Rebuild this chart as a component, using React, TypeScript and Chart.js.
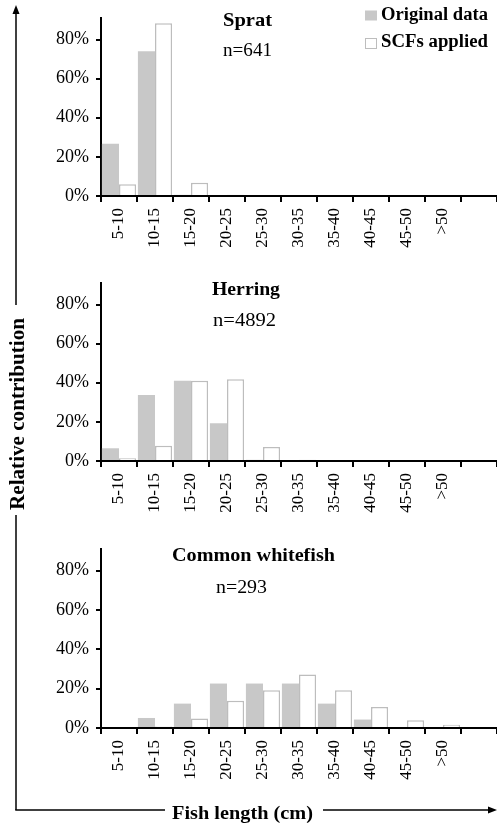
import React, { useEffect, useRef } from 'react';
import { Chart, registerables } from 'chart.js';

Chart.register(...registerables);

const categories = ['5-10', '10-15', '15-20', '20-25', '25-30', '30-35', '35-40', '40-45', '45-50', '>50', ''];
const yTickValues = [0, 20, 40, 60, 80];

const spratOriginal = [26.7, 74, 0.6, 0, 0, 0, 0, 0, 0, 0, null];
const spratSCF = [6, 88.3, 6.8, 0.6, 0, 0, 0, 0, 0, 0, null];
const herringOriginal = [6.5, 33.8, 41, 19.3, 0.6, 0, 0, 0, 0, 0, null];
const herringSCF = [1.4, 7.8, 41, 41.8, 7.2, 0.6, 0, 0, 0, 0, null];
const whitefishOriginal = [0, 5.1, 12.4, 22.6, 22.6, 22.6, 12.4, 4.3, 0, 0, null];
const whitefishSCF = [0, 0.8, 4.8, 13.8, 19.2, 27.2, 19.2, 10.7, 3.9, 1.7, null];

const seriesNames = ['Original data', 'SCFs applied'];

const FONT = "'Liberation Serif', 'Times New Roman', serif";
const GRAY = '#c8c8c8';
const WHITE_BORDER = '#bdbdbd';

function makeConfig(orig: (number | null)[], scf: (number | null)[], topPad: number): any {
  return {
    type: 'bar',
    data: {
      labels: categories,
      datasets: [
        {
          label: seriesNames[0],
          data: orig,
          backgroundColor: GRAY,
          borderWidth: 0,
          categoryPercentage: 0.95,
          barPercentage: 1,
        },
        {
          label: seriesNames[1],
          data: scf,
          backgroundColor: '#ffffff',
          borderColor: WHITE_BORDER,
          borderWidth: 1.5,
          categoryPercentage: 0.95,
          barPercentage: 1,
        },
      ],
    },
    options: {
      responsive: false,
      animation: false,
      layout: { padding: { top: topPad, left: 0, right: 0, bottom: 0 } },
      plugins: {
        legend: { display: false },
        tooltip: { enabled: false },
        title: { display: false },
      },
      scales: {
        x: {
          grid: {
            display: true,
            drawOnChartArea: false,
            drawTicks: true,
            tickLength: 6,
            color: '#000',
            lineWidth: 2,
            offset: true,
          },
          border: { display: true, color: '#000', width: 2 },
          ticks: {
            minRotation: 90,
            maxRotation: 90,
            autoSkip: false,
            color: '#000',
            padding: 6,
            font: { family: FONT, size: 17 },
          },
          afterFit: (s: any) => {
            s.height = 64;
            s.paddingLeft = 0;
            s.paddingRight = 0;
          },
        },
        y: {
          min: 0,
          max: 91,
          afterBuildTicks: (s: any) => {
            s.ticks = yTickValues.map((v) => ({ value: v }));
          },
          ticks: {
            color: '#000',
            padding: 7,
            font: { family: FONT, size: 18 },
            callback: (v: any) => v + '%',
          },
          grid: {
            display: true,
            drawOnChartArea: false,
            drawTicks: true,
            tickLength: 5,
            color: '#000',
            lineWidth: 2,
          },
          border: { display: true, color: '#000', width: 2 },
          afterFit: (s: any) => {
            s.width = 101;
            s.paddingTop = 0;
            s.paddingBottom = 0;
          },
        },
      },
    },
  };
}

function Panel({ orig, scf, top, topPad }: { orig: (number | null)[]; scf: (number | null)[]; top: number; topPad: number }) {
  const ref = useRef<HTMLCanvasElement | null>(null);
  useEffect(() => {
    if (!ref.current) return;
    const chart = new Chart(ref.current, makeConfig(orig, scf, topPad));
    return () => chart.destroy();
  }, [orig, scf, topPad]);
  return (
    <canvas
      ref={ref}
      width={497}
      height={260}
      style={{ position: 'absolute', left: 0, top, width: 497, height: 260 }}
    />
  );
}

export default function App() {
  const bold = { fontFamily: FONT, fontWeight: 700 } as any;
  const normal = { fontFamily: FONT, fontWeight: 400 } as any;
  return (
    <div style={{ position: 'absolute', left: 0, top: 0, width: 497, height: 823, background: '#fff', overflow: 'hidden' }}>
      <Panel orig={spratOriginal} scf={spratSCF} top={0} topPad={18} />
      <Panel orig={herringOriginal} scf={herringSCF} top={265} topPad={18} />
      <Panel orig={whitefishOriginal} scf={whitefishSCF} top={532} topPad={17} />
      <svg
        width={497}
        height={823}
        style={{ position: 'absolute', left: 0, top: 0, pointerEvents: 'none' }}
      >
        {/* outer axes */}
        <line x1={16} y1={12} x2={16} y2={305} stroke="#000" strokeWidth={1.5} />
        <polygon points="16,5 12.5,14 19.5,14" fill="#000" />
        <line x1={16} y1={515} x2={16} y2={810} stroke="#000" strokeWidth={1.5} />
        <line x1={15.25} y1={810} x2={165} y2={810} stroke="#000" strokeWidth={1.5} />
        <line x1={323} y1={810} x2={490} y2={810} stroke="#000" strokeWidth={1.5} />
        <polygon points="497,810 488,806.5 488,813.5" fill="#000" />
        <text
          transform="translate(24,414) rotate(-90)"
          textAnchor="middle"
          fontSize={20}
          textLength={192}
          lengthAdjust="spacingAndGlyphs"
          style={bold}
        >
          Relative contribution
        </text>
        <text x={172} y={819} fontSize={19} textLength={141} lengthAdjust="spacingAndGlyphs" style={bold}>
          Fish length (cm)
        </text>

        {/* legend */}
        <rect x={365} y={10.5} width={12} height={10} fill={GRAY} />
        <text x={381} y={20} fontSize={18} textLength={107} lengthAdjust="spacingAndGlyphs" style={bold}>
          {seriesNames[0]}
        </text>
        <rect x={365.5} y={38.5} width={11} height={10} fill="#fff" stroke={WHITE_BORDER} strokeWidth={1} />
        <text x={381} y={47} fontSize={18} textLength={107} lengthAdjust="spacingAndGlyphs" style={bold}>
          {seriesNames[1]}
        </text>

        {/* panel titles */}
        <text x={223} y={26} fontSize={19} textLength={49} lengthAdjust="spacingAndGlyphs" style={bold}>Sprat</text>
        <text x={223} y={56} fontSize={19} textLength={49} lengthAdjust="spacingAndGlyphs" style={normal}>n=641</text>
        <text x={212} y={295} fontSize={19} textLength={68} lengthAdjust="spacingAndGlyphs" style={bold}>Herring</text>
        <text x={213} y={326} fontSize={19} textLength={63} lengthAdjust="spacingAndGlyphs" style={normal}>n=4892</text>
        <text x={172} y={561} fontSize={19} textLength={163} lengthAdjust="spacingAndGlyphs" style={bold}>Common whitefish</text>
        <text x={216} y={593} fontSize={19} textLength={51} lengthAdjust="spacingAndGlyphs" style={normal}>n=293</text>
      </svg>
    </div>
  );
}
